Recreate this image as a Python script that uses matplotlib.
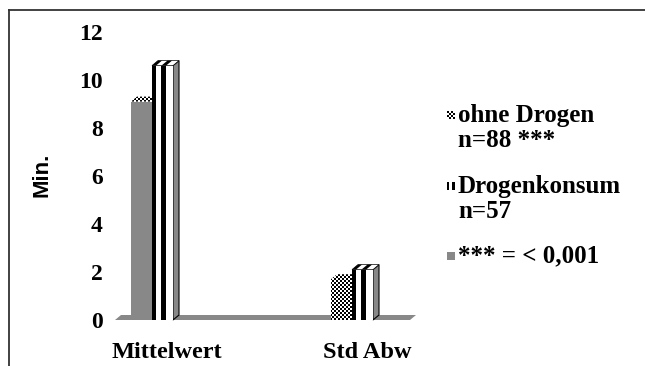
import matplotlib.pyplot as plt
import numpy as np
from matplotlib.lines import Line2D
from matplotlib.patches import Polygon, Rectangle
from matplotlib.transforms import ScaledTranslation

# ------------------------------------------------------------
# data
# ------------------------------------------------------------
categories = ['Mittelwert', 'Std Abw']
ohne_drogen = [9.1, 1.7]
drogenkonsum = [10.6, 2.1]
significant = [True, False]      # ohne Drogen, p < 0,001 -> grey bar
yticks = [0, 2, 4, 6, 8, 10, 12]
legend_labels = ['ohne Drogen\nn=88 ***', 'Drogenkonsum\nn=57', '*** = < 0,001']

SERIF = 'Liberation Serif'
SANS = 'Liberation Sans'
GREY = '#888888'

W, H = 645, 366
fig = plt.figure(figsize=(W / 100, H / 100), dpi=100)

# plot area in pixels
AX_L, AX_R, AX_T, AX_B = 115, 410, 32, 320
XMIN, XMAX = -0.185, 1.29
ax = fig.add_axes([AX_L / W, (H - AX_B) / H, (AX_R - AX_L) / W, (AX_B - AX_T) / H])
ax.set_xlim(XMIN, XMAX)
ax.set_ylim(0, 12)
ax.set_autoscale_on(False)
for s in ax.spines.values():
    s.set_visible(False)

# depth of the pseudo 3-D look (pixels -> data units)
DX = 6 * (XMAX - XMIN) / (AX_R - AX_L)
DY = 5 * 12 / (AX_B - AX_T)
BW = 0.105
x = np.arange(len(categories))

# checkerboard texture (2 px cells) spanning the whole figure
rows, cols = H // 2 + 1, W // 2 + 1
checker = np.add.outer(np.arange(rows), np.arange(cols)) % 2


def checker_fill(patch, z):
    im = ax.imshow(checker, cmap='gray', vmin=0, vmax=1, interpolation='nearest',
                   extent=[0, (cols * 2) / W, 1 - (rows * 2) / H, 1],
                   transform=fig.transFigure, aspect='auto', zorder=z)
    im.set_clip_path(patch)


def add_poly(pts, z, **kw):
    p = Polygon(pts, closed=True, zorder=z, clip_on=False, **kw)
    ax.add_patch(p)
    return p


def top_face(x0, x1, v):
    return [(x0, v), (x1, v), (x1 + DX, v + DY), (x0 + DX, v + DY)]


def side_face(x1, v):
    return [(x1, 0), (x1, v), (x1 + DX, v + DY), (x1 + DX, DY)]


# floor
add_poly([(XMIN, 0), (XMAX, 0), (XMAX + DX, DY), (XMIN + DX, DY)], 1,
         facecolor=GREY, edgecolor='none')

# stripe layout of the "Drogenkonsum" bars, as fractions of the bar width
stripes = [(0.0, 0.19), (0.45, 0.67)]

for i in range(len(categories)):
    # ohne Drogen
    v = ohne_drogen[i]
    x0 = x[i] - BW
    x1 = x[i]
    z = 3
    top = add_poly(top_face(x0, x1, v), z, facecolor='white', edgecolor='none')
    checker_fill(top, z + 0.1)
    if significant[i]:
        ax.bar(x0, v, width=BW, align='edge', color=GREY, zorder=z + 0.2,
               linewidth=0)
    else:
        front = ax.bar(x0, v, width=BW, align='edge', color='white',
                       zorder=z + 0.2, linewidth=0)[0]
        checker_fill(front, z + 0.3)

    # Drogenkonsum
    v = drogenkonsum[i]
    x0 = x[i]
    x1 = x[i] + BW
    z = 4
    add_poly(side_face(x1, v), z, facecolor=GREY, edgecolor='black', lw=0.8)
    add_poly(top_face(x0, x1, v), z, facecolor='white', edgecolor='black', lw=0.5)
    for a, b in stripes:
        add_poly(top_face(x0 + a * BW, x0 + b * BW, v), z + 0.1,
                 facecolor='black', edgecolor='none')
    ax.bar(x0, v, width=BW, align='edge', color='white', zorder=z + 0.2,
           linewidth=0)
    for a, b in stripes:
        ax.bar(x0 + a * BW, v, width=(b - a) * BW, align='edge', color='black',
               zorder=z + 0.3, linewidth=0)

# axes labels and ticks
ax.set_yticks(yticks)
ax.set_yticklabels([str(t) for t in yticks], fontfamily=SERIF,
                   fontweight='bold', fontsize=17)
ax.set_xticks(x)
ax.set_xticklabels(categories, fontfamily=SERIF, fontweight='bold', fontsize=17.5)
ax.tick_params(axis='y', length=0, pad=9)
ax.tick_params(axis='x', length=0, pad=16)
shift = ScaledTranslation(15 / 100, 0, fig.dpi_scale_trans)
for lab in ax.get_xticklabels():
    lab.set_transform(lab.get_transform() + shift)

fig.text(42 / W, 1 - 175 / H, 'Min.', rotation=90, ha='center', va='center',
         fontfamily=SANS, fontweight='bold', fontsize=16)

# legend
leg_y = [128, 199, 256]
LX = 447
for k, (label, yy) in enumerate(zip(legend_labels, leg_y)):
    first_line_y = yy - (13 if '\n' in label else 0)
    fig.text((LX + 11) / W, 1 - yy / H, label, ha='left', va='center',
             fontfamily=SERIF, fontweight='bold', fontsize=18, linespacing=1.08)
    mx, my, ms = LX, first_line_y - 4, 8
    if k == 0:
        cax = fig.add_axes([mx / W, 1 - (my + ms) / H, ms / W, ms / H])
        cax.imshow(checker[:4, :4], cmap='gray', interpolation='nearest',
                   aspect='auto')
        cax.set_axis_off()
    elif k == 1:
        for sx, sw in ((0, 2), (5, 3)):
            fig.add_artist(Rectangle(((mx + sx) / W, 1 - (my + ms) / H), sw / W,
                                     ms / H, transform=fig.transFigure,
                                     color='black', lw=0))
    else:
        fig.add_artist(Rectangle((mx / W, 1 - (my + ms) / H), ms / W, ms / H,
                                 transform=fig.transFigure, color=GREY, lw=0))

# outer frame (runs off the right and bottom edge)
fig.add_artist(Line2D([8.5 / W, 8.5 / W], [0, 1 - 9.5 / H],
                      transform=fig.transFigure, color='#333333', lw=1.3))
fig.add_artist(Line2D([8.5 / W, 1], [1 - 9.5 / H, 1 - 9.5 / H],
                      transform=fig.transFigure, color='#333333', lw=1.3))

fig.savefig('out.png', dpi=100)
